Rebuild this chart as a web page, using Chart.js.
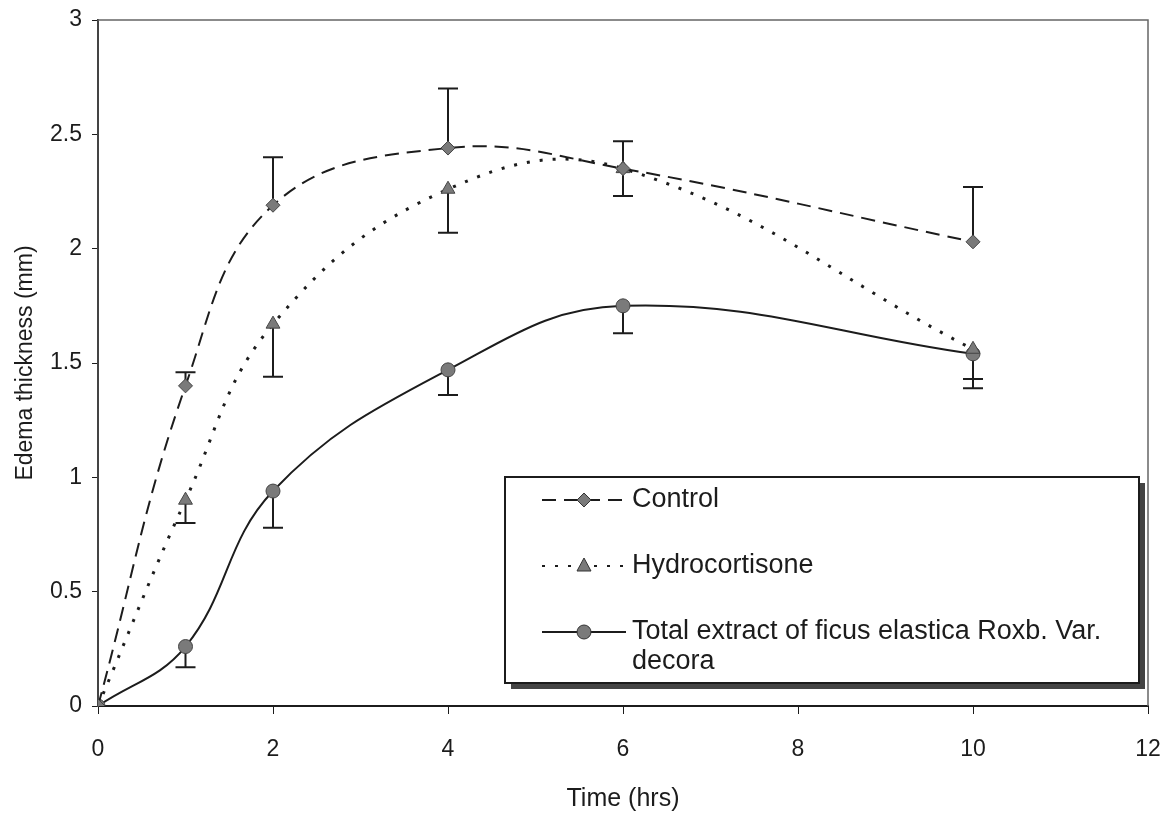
<!DOCTYPE html>
<html>
<head>
<meta charset="utf-8">
<script src="https://cdn.jsdelivr.net/npm/chart.js@4"></script>
<style>
  html, body { margin: 0; padding: 0; background: #fff; }
  #wrap { width: 1167px; height: 814px; }
</style>
</head>
<body>
<div id="wrap"><canvas id="chart" width="1167" height="814"></canvas></div>
<script>
// time points (hrs)
const times = [0, 1, 2, 4, 6, 10];

// edema thickness (mm) and SD per series
const controlVals = [0, 1.40, 2.19, 2.44, 2.35, 2.03];
const controlErr  = [0, 0.06, 0.21, 0.26, 0.12, 0.24];
const hydroVals   = [0, 0.90, 1.67, 2.26, 2.35, 1.56];
const hydroErr    = [0, 0.10, 0.23, 0.19, 0.12, 0.17];
const extractVals = [0, 0.26, 0.94, 1.47, 1.75, 1.54];
const extractErr  = [0, 0.09, 0.16, 0.11, 0.12, 0.11];

const seriesLabels = ['Control', 'Hydrocortisone', 'Total extract of ficus elastica Roxb. Var. decora'];
const xTicks = [0, 2, 4, 6, 8, 10, 12];
const yTicks = [0, 0.5, 1, 1.5, 2, 2.5, 3];

const ink = '#1c1c1c';
const markFill = '#7a7a7a';
const fam = '"Liberation Sans", Arial, sans-serif';

function toPoints(vals) {
    return times.map((t, i) => ({ x: t, y: vals[i] }));
}

const errSets = [
    { err: controlErr, dir: 1 },
    { err: hydroErr, dir: -1 },
    { err: extractErr, dir: -1 }
];

const errorBars = {
    id: 'errorBars',
    beforeDatasetsDraw(chart) {
        const ctx = chart.ctx;
        const xs = chart.scales.x, ys = chart.scales.y;
        ctx.save();
        ctx.strokeStyle = ink;
        ctx.lineWidth = 2;
        chart.data.datasets.forEach((ds, d) => {
            const e = errSets[d];
            ds.data.forEach((p, i) => {
                if (!e.err[i]) return;
                const px = xs.getPixelForValue(p.x);
                const y0 = ys.getPixelForValue(p.y);
                const y1 = ys.getPixelForValue(p.y + e.dir * e.err[i]);
                ctx.beginPath();
                ctx.moveTo(px, y0);
                ctx.lineTo(px, y1);
                ctx.moveTo(px - 10, y1);
                ctx.lineTo(px + 10, y1);
                ctx.stroke();
            });
        });
        ctx.restore();
    }
};

const frame = {
    id: 'frame',
    beforeDatasetsDraw(chart) {
        const a = chart.chartArea, ctx = chart.ctx;
        ctx.save();
        ctx.strokeStyle = '#666';
        ctx.lineWidth = 1.5;
        ctx.beginPath();
        ctx.moveTo(a.left, a.top);
        ctx.lineTo(a.right, a.top);
        ctx.lineTo(a.right, a.bottom);
        ctx.stroke();
        ctx.restore();
    }
};

const boxLegend = {
    id: 'boxLegend',
    afterDraw(chart) {
        const ctx = chart.ctx;
        const bx = 505, by = 477, bw = 634, bh = 206;
        ctx.save();
        ctx.fillStyle = '#444';
        ctx.fillRect(bx + 6, by + 6, bw, bh);
        ctx.fillStyle = '#fff';
        ctx.fillRect(bx, by, bw, bh);
        ctx.strokeStyle = ink;
        ctx.lineWidth = 2;
        ctx.strokeRect(bx, by, bw, bh);

        const rows = [500, 566, 632];
        ctx.font = '27px ' + fam;
        ctx.textBaseline = 'middle';
        chart.data.datasets.forEach((ds, i) => {
            const y = rows[i];
            ctx.strokeStyle = ink;
            ctx.lineWidth = 2;
            ctx.setLineDash(ds.borderDash || []);
            ctx.beginPath();
            ctx.moveTo(542, y);
            ctx.lineTo(626, y);
            ctx.stroke();
            ctx.setLineDash([]);
            ctx.fillStyle = markFill;
            ctx.strokeStyle = '#333';
            ctx.lineWidth = 1;
            ctx.beginPath();
            if (ds.pointStyle === 'rectRot') {
                ctx.moveTo(584, y - 7); ctx.lineTo(591, y); ctx.lineTo(584, y + 7); ctx.lineTo(577, y);
            } else if (ds.pointStyle === 'triangle') {
                ctx.moveTo(584, y - 8); ctx.lineTo(591, y + 5); ctx.lineTo(577, y + 5);
            } else {
                ctx.arc(584, y, 7, 0, Math.PI * 2);
            }
            ctx.closePath();
            ctx.fill();
            ctx.stroke();
            ctx.fillStyle = ink;
            if (i === 2) {
                ctx.fillText('Total extract of ficus elastica Roxb. Var.', 632, y);
                ctx.fillText('decora', 632, y + 30);
            } else {
                ctx.fillText(ds.label, 632, y);
            }
        });
        ctx.restore();
    }
};

new Chart(document.getElementById('chart'), {
    type: 'line',
    data: {
        datasets: [
            {
                label: seriesLabels[0],
                data: toPoints(controlVals),
                borderColor: ink,
                borderWidth: 2,
                borderDash: [14, 8],
                pointStyle: 'rectRot',
                pointRadius: 7,
                pointBackgroundColor: markFill,
                pointBorderColor: '#444',
                pointBorderWidth: 1,
                tension: 0.4
            },
            {
                label: seriesLabels[1],
                data: toPoints(hydroVals),
                borderColor: ink,
                borderWidth: 3,
                borderDash: [3, 10],
                pointStyle: 'triangle',
                pointRadius: 8,
                pointBackgroundColor: markFill,
                pointBorderColor: '#444',
                pointBorderWidth: 1,
                tension: 0.4
            },
            {
                label: seriesLabels[2],
                data: toPoints(extractVals),
                borderColor: ink,
                borderWidth: 2,
                pointStyle: 'circle',
                pointRadius: 7,
                pointBackgroundColor: markFill,
                pointBorderColor: '#444',
                pointBorderWidth: 1,
                tension: 0.4
            }
        ]
    },
    options: {
        responsive: false,
        animation: false,
        layout: { padding: { top: 20, right: 19, left: 0, bottom: 0 } },
        plugins: {
            legend: { display: false },
            tooltip: { enabled: false }
        },
        scales: {
            x: {
                type: 'linear',
                min: 0,
                max: 12,
                afterFit(s) { s.height = 108; s.paddingLeft = 0; s.paddingRight = 0; },
                afterBuildTicks(s) { s.ticks = xTicks.map(v => ({ value: v })); },
                grid: { display: true, drawOnChartArea: false, drawTicks: true, tickLength: 8, color: ink },
                border: { display: true, color: ink, width: 2 },
                ticks: { color: ink, font: { family: fam, size: 23 }, padding: 22, callback: v => String(v) },
                title: { display: true, text: 'Time (hrs)', color: ink, font: { family: fam, size: 25 }, padding: { top: 8, bottom: 0 } }
            },
            y: {
                min: 0,
                max: 3,
                afterFit(s) { s.width = 98; s.paddingTop = 0; s.paddingBottom = 0; },
                afterBuildTicks(s) { s.ticks = yTicks.map(v => ({ value: v })); },
                grid: { display: true, drawOnChartArea: false, drawTicks: true, tickLength: 6, color: ink },
                border: { display: true, color: '#444', width: 2 },
                ticks: { color: ink, font: { family: fam, size: 23 }, padding: 10, callback: v => String(v) },
                title: { display: true, text: 'Edema thickness (mm)', color: ink, font: { family: fam, size: 23 }, padding: { top: 12, bottom: 2 } }
            }
        }
    },
    plugins: [frame, errorBars, boxLegend]
});
</script>
</body>
</html>
